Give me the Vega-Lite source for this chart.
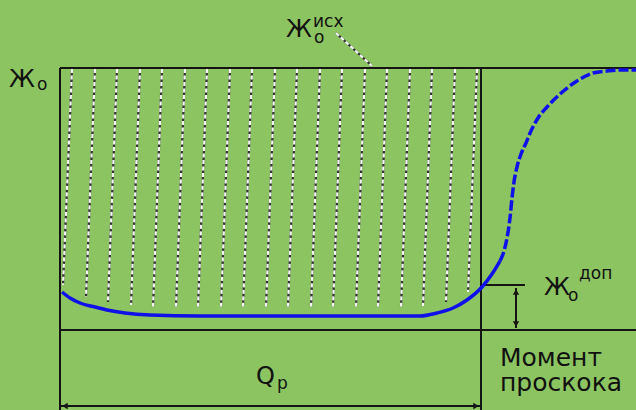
{
  "$schema": "https://vega.github.io/schema/vega-lite/v6.json",
  "width": 636,
  "height": 410,
  "autosize": {"type": "none"},
  "padding": 0,
  "background": "#8cc462",
  "config": {"view": {"stroke": null}},
  "datasets": {
    "frame": [
      {"x": 60, "y": 68, "x2": 636, "y2": 68},
      {"x": 60, "y": 68, "x2": 60, "y2": 410},
      {"x": 481, "y": 68, "x2": 481, "y2": 410},
      {"x": 60, "y": 330, "x2": 636, "y2": 330},
      {"x": 60, "y": 406, "x2": 481, "y2": 406},
      {"x": 482, "y": 285, "x2": 525, "y2": 285},
      {"x": 516, "y": 288, "x2": 516, "y2": 328}
    ],
    "hatch": [
      {"x": 72, "y": 69, "x2": 63, "y2": 285},
      {"x": 95, "y": 69, "x2": 86, "y2": 297},
      {"x": 117, "y": 69, "x2": 108, "y2": 302},
      {"x": 140, "y": 69, "x2": 131, "y2": 305},
      {"x": 162, "y": 69, "x2": 153, "y2": 307},
      {"x": 185, "y": 69, "x2": 176, "y2": 307},
      {"x": 207, "y": 69, "x2": 198, "y2": 307},
      {"x": 230, "y": 69, "x2": 221, "y2": 307},
      {"x": 252, "y": 69, "x2": 243, "y2": 307},
      {"x": 275, "y": 69, "x2": 266, "y2": 307},
      {"x": 297, "y": 69, "x2": 288, "y2": 307},
      {"x": 320, "y": 69, "x2": 311, "y2": 307},
      {"x": 342, "y": 69, "x2": 333, "y2": 307},
      {"x": 365, "y": 69, "x2": 356, "y2": 307},
      {"x": 387, "y": 69, "x2": 378, "y2": 307},
      {"x": 410, "y": 69, "x2": 401, "y2": 307},
      {"x": 432, "y": 69, "x2": 423, "y2": 306},
      {"x": 455, "y": 69, "x2": 446, "y2": 302},
      {"x": 477, "y": 69, "x2": 468, "y2": 292},
      {"x": 336, "y": 33, "x2": 372, "y2": 66}
    ],
    "curve": [
      {"x": 62, "y": 292, "part": "solid"},
      {"x": 70, "y": 298, "part": "solid"},
      {"x": 80, "y": 303, "part": "solid"},
      {"x": 95, "y": 307, "part": "solid"},
      {"x": 107, "y": 310, "part": "solid"},
      {"x": 125, "y": 313, "part": "solid"},
      {"x": 150, "y": 315, "part": "solid"},
      {"x": 200, "y": 316, "part": "solid"},
      {"x": 300, "y": 316, "part": "solid"},
      {"x": 400, "y": 316, "part": "solid"},
      {"x": 420, "y": 316, "part": "solid"},
      {"x": 437, "y": 313, "part": "solid"},
      {"x": 453, "y": 308, "part": "solid"},
      {"x": 467, "y": 300, "part": "solid"},
      {"x": 482, "y": 287, "part": "solid"},
      {"x": 492, "y": 274, "part": "solid"},
      {"x": 500, "y": 261, "part": "solid"},
      {"x": 500, "y": 261, "part": "dashed"},
      {"x": 504, "y": 251, "part": "dashed"},
      {"x": 507, "y": 238, "part": "dashed"},
      {"x": 510, "y": 218, "part": "dashed"},
      {"x": 512, "y": 198, "part": "dashed"},
      {"x": 514, "y": 182, "part": "dashed"},
      {"x": 517, "y": 167, "part": "dashed"},
      {"x": 521, "y": 154, "part": "dashed"},
      {"x": 526, "y": 143, "part": "dashed"},
      {"x": 531, "y": 131, "part": "dashed"},
      {"x": 538, "y": 118, "part": "dashed"},
      {"x": 547, "y": 107, "part": "dashed"},
      {"x": 560, "y": 94, "part": "dashed"},
      {"x": 577, "y": 81, "part": "dashed"},
      {"x": 593, "y": 73, "part": "dashed"},
      {"x": 607, "y": 71, "part": "dashed"},
      {"x": 620, "y": 70, "part": "dashed"},
      {"x": 636, "y": 70, "part": "dashed"}
    ],
    "arrows": [
      {"x": 65, "y": 406, "dir": "left"},
      {"x": 476, "y": 406, "dir": "right"},
      {"x": 516, "y": 292, "dir": "up"},
      {"x": 516, "y": 324, "dir": "down"}
    ],
    "bigText": [
      {"x": 9, "y": 87, "t": "Ж"},
      {"x": 286, "y": 37, "t": "Ж"},
      {"x": 544, "y": 295, "t": "Ж"},
      {"x": 256, "y": 384, "t": "Q"}
    ],
    "labelText": [
      {"x": 500, "y": 366, "t": "Момент"},
      {"x": 500, "y": 391, "t": "проскока"}
    ],
    "smallText": [
      {"x": 37, "y": 90, "t": "о"},
      {"x": 314, "y": 43, "t": "о"},
      {"x": 313, "y": 27, "t": "исх"},
      {"x": 568, "y": 301, "t": "о"},
      {"x": 579, "y": 279, "t": "доп"},
      {"x": 277, "y": 389, "t": "р"}
    ]
  },
  "layer": [
    {
      "data": {"name": "hatch"},
      "mark": {"type": "rule", "color": "#333333", "strokeWidth": 2.2},
      "encoding": {
        "x": {"field": "x", "type": "quantitative", "scale": {"domain": [0, 636], "nice": false, "zero": false}, "axis": null},
        "y": {"field": "y", "type": "quantitative", "scale": {"domain": [0, 410], "nice": false, "zero": false, "reverse": true}, "axis": null},
        "x2": {"field": "x2"},
        "y2": {"field": "y2"}
      }
    },
    {
      "data": {"name": "hatch"},
      "mark": {"type": "rule", "color": "#f4f4f4", "strokeWidth": 2.2, "strokeDash": [4, 2.5]},
      "encoding": {
        "x": {"field": "x", "type": "quantitative"},
        "y": {"field": "y", "type": "quantitative"},
        "x2": {"field": "x2"},
        "y2": {"field": "y2"}
      }
    },
    {
      "data": {"name": "frame"},
      "mark": {"type": "rule", "color": "#141414", "strokeWidth": 2},
      "encoding": {
        "x": {"field": "x", "type": "quantitative"},
        "y": {"field": "y", "type": "quantitative"},
        "x2": {"field": "x2"},
        "y2": {"field": "y2"}
      }
    },
    {
      "data": {"name": "curve"},
      "transform": [{"filter": "datum.part === 'solid'"}],
      "mark": {"type": "line", "color": "#1010e8", "strokeWidth": 3.5, "interpolate": "monotone"},
      "encoding": {
        "x": {"field": "x", "type": "quantitative"},
        "y": {"field": "y", "type": "quantitative"}
      }
    },
    {
      "data": {"name": "curve"},
      "transform": [{"filter": "datum.part === 'dashed'"}],
      "mark": {"type": "line", "color": "#1010e8", "strokeWidth": 3.5, "interpolate": "monotone", "strokeDash": [10, 3]},
      "encoding": {
        "x": {"field": "x", "type": "quantitative"},
        "y": {"field": "y", "type": "quantitative"}
      }
    },
    {
      "data": {"name": "arrows"},
      "mark": {"type": "point", "filled": true, "color": "#141414", "size": 40, "opacity": 1},
      "encoding": {
        "x": {"field": "x", "type": "quantitative"},
        "y": {"field": "y", "type": "quantitative"},
        "shape": {"field": "dir", "type": "nominal", "legend": null, "scale": {"domain": ["left", "right", "up", "down"], "range": ["triangle-left", "triangle-right", "triangle-up", "triangle-down"]}}
      }
    },
    {
      "data": {"name": "bigText"},
      "mark": {"type": "text", "font": "DejaVu Sans", "fontSize": 24, "align": "left", "baseline": "alphabetic", "color": "#111111"},
      "encoding": {
        "x": {"field": "x", "type": "quantitative"},
        "y": {"field": "y", "type": "quantitative"},
        "text": {"field": "t"}
      }
    },
    {
      "data": {"name": "labelText"},
      "mark": {"type": "text", "font": "DejaVu Sans", "fontSize": 25, "align": "left", "baseline": "alphabetic", "color": "#111111"},
      "encoding": {
        "x": {"field": "x", "type": "quantitative"},
        "y": {"field": "y", "type": "quantitative"},
        "text": {"field": "t"}
      }
    },
    {
      "data": {"name": "smallText"},
      "mark": {"type": "text", "font": "DejaVu Sans", "fontSize": 17, "align": "left", "baseline": "alphabetic", "color": "#111111"},
      "encoding": {
        "x": {"field": "x", "type": "quantitative"},
        "y": {"field": "y", "type": "quantitative"},
        "text": {"field": "t"}
      }
    }
  ]
}
